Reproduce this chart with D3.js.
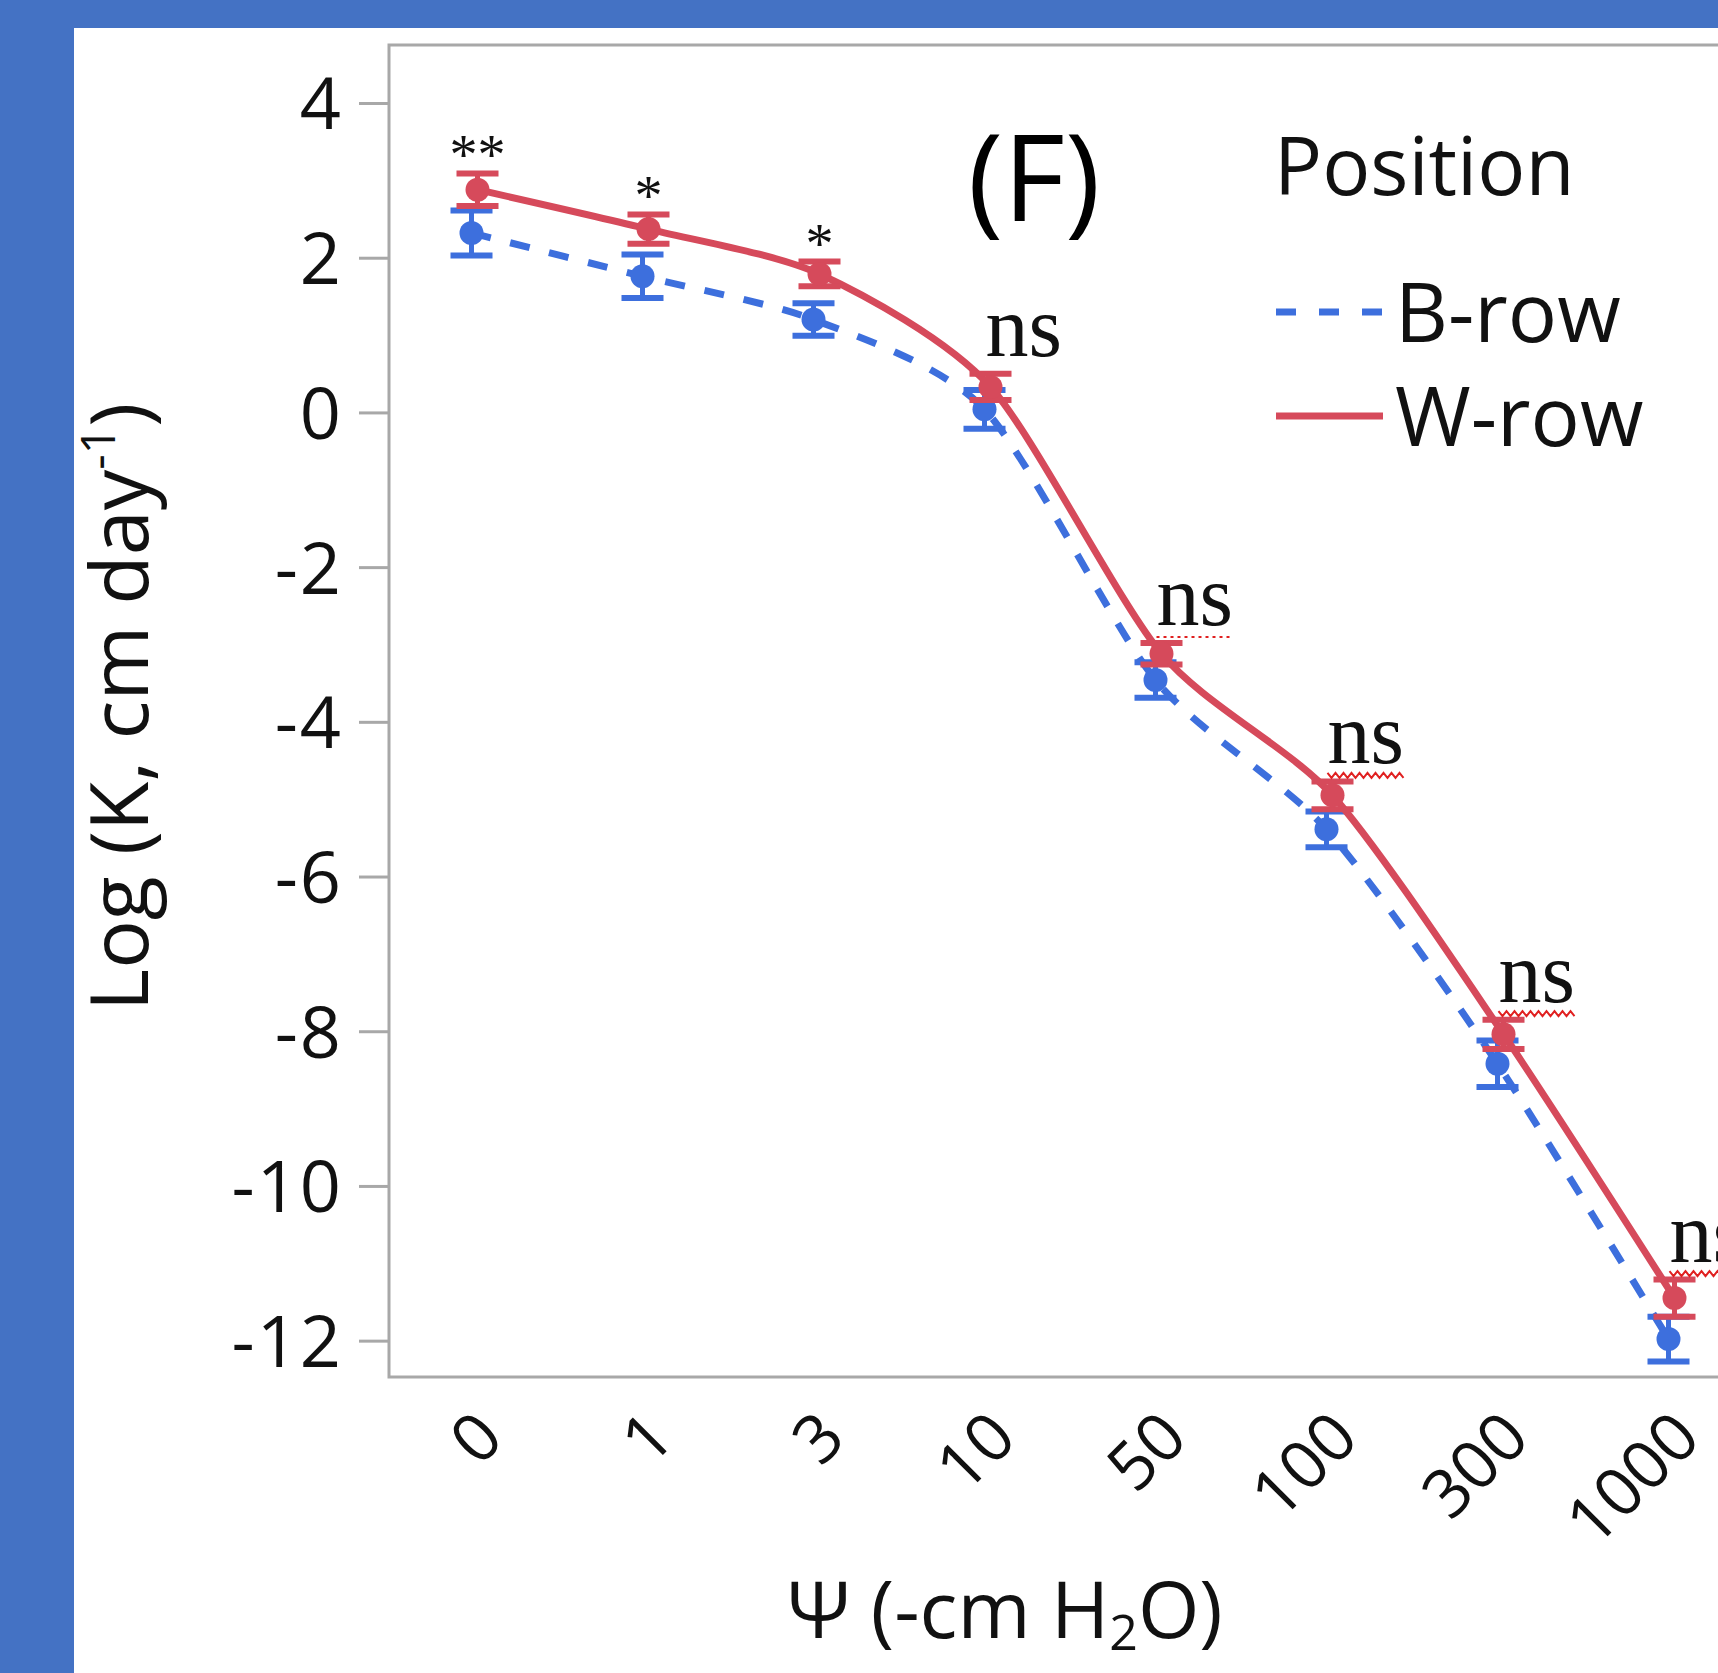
<!DOCTYPE html>
<html>
<head>
<meta charset="utf-8">
<script src="https://cdn.jsdelivr.net/npm/d3@7"></script>
<style>
  body { margin: 0; background: #4472c4; }
  svg { display: block; }
</style>
</head>
<body>
<div id="chart"></div>
<script>
// x categories: water potential (-cm H2O)
var categories = ["0", "1", "3", "10", "50", "100", "300", "1000"];
// W-row: mean log K and half-width of the error bar
var wMean = [2.88, 2.37, 1.79, 0.33, -3.12, -4.95, -8.04, -11.45];
var wErr = [0.21, 0.19, 0.16, 0.17, 0.14, 0.18, 0.19, 0.24];
// B-row
var bMean = [2.32, 1.76, 1.20, 0.04, -3.46, -5.39, -8.42, -11.98];
var bErr = [0.29, 0.28, 0.21, 0.25, 0.23, 0.23, 0.30, 0.29];
// significance marks above each pair
var sigLabels = ["**", "*", "*", "ns", "ns", "ns", "ns", "ns"];
var yTicks = [4, 2, 0, -2, -4, -6, -8, -10, -12];

var width = 1718, height = 1673;
var frame = {left: 389, top: 45, right: 1757, bottom: 1377};
var red = "#d64a5b", blue = "#3d6fdd", grey = "#a8a8a8";
var sans = "'Open Sans', 'Noto Sans', sans-serif";
var serif = "'Liberation Serif', 'DejaVu Serif', serif";

var svg = d3.select("#chart").append("svg")
    .attr("width", width)
    .attr("height", height);

// blue slide background and white panel
svg.append("rect").attr("width", width).attr("height", height).attr("fill", "#4472c4");
svg.append("rect").attr("x", 74).attr("y", 28)
    .attr("width", width - 74).attr("height", height - 28).attr("fill", "#fff");

var x = d3.scalePoint().domain(categories).range([frame.left, frame.right]).padding(0.5);
var y = d3.scaleLinear().domain([-12.47, 4.75]).range([frame.bottom, frame.top]);

//y axis
var yAxis = svg.append("g")
    .attr("transform", "translate(" + frame.left + ",0)")
    .call(d3.axisLeft(y).tickValues(yTicks).tickSize(30).tickPadding(16)
        .tickFormat(function (d) { return String(d); }));
yAxis.select(".domain").remove();
yAxis.selectAll(".tick line").attr("stroke", grey).attr("stroke-width", 3);
yAxis.selectAll(".tick text")
    .attr("font-family", sans).attr("font-size", 72).attr("fill", "#111")
    .attr("letter-spacing", 2)
    .attr("dy", "0.36em");

//x axis, labels turned 45 degrees
var xAxis = svg.append("g")
    .attr("transform", "translate(0," + frame.bottom + ")")
    .call(d3.axisBottom(x).tickSize(0));
xAxis.select(".domain").remove();
xAxis.selectAll(".tick text")
    .attr("font-family", sans).attr("font-size", 67).attr("fill", "#111")
    .attr("y", 0).attr("dy", 0)
    .attr("text-anchor", "end")
    .attr("transform", "translate(31,64) rotate(-45)");

// plot frame (right side runs off the picture)
svg.append("rect")
    .attr("x", frame.left).attr("y", frame.top)
    .attr("width", frame.right - frame.left).attr("height", frame.bottom - frame.top)
    .attr("fill", "none").attr("stroke", grey).attr("stroke-width", 3);

var series = [
    {name: "B-row", mean: bMean, err: bErr, color: blue, off: -3, dash: "20,20"},
    {name: "W-row", mean: wMean, err: wErr, color: red, off: 3, dash: null}
];

var capW = 42;
series.forEach(function (s) {
    var g = svg.append("g");
    var line = d3.line()
        .x(function (d, i) { return x(categories[i]) + s.off; })
        .y(function (d) { return y(d); })
        .curve(d3.curveCardinal.tension(0.25));
    g.append("path")
        .datum(s.mean)
        .attr("d", line)
        .attr("fill", "none")
        .attr("stroke", s.color)
        .attr("stroke-width", 7)
        .attr("stroke-dasharray", s.dash);

    var pts = g.selectAll(".pt")
        .data(s.mean)
        .enter()
        .append("g")
        .attr("transform", function (d, i) { return "translate(" + (x(categories[i]) + s.off) + ",0)"; });
    pts.append("line")
        .attr("y1", function (d, i) { return y(d + s.err[i]); })
        .attr("y2", function (d, i) { return y(d - s.err[i]); })
        .attr("stroke", s.color).attr("stroke-width", 5);
    pts.append("line")
        .attr("x1", -capW / 2).attr("x2", capW / 2)
        .attr("y1", function (d, i) { return y(d + s.err[i]); })
        .attr("y2", function (d, i) { return y(d + s.err[i]); })
        .attr("stroke", s.color).attr("stroke-width", 6);
    pts.append("line")
        .attr("x1", -capW / 2).attr("x2", capW / 2)
        .attr("y1", function (d, i) { return y(d - s.err[i]); })
        .attr("y2", function (d, i) { return y(d - s.err[i]); })
        .attr("stroke", s.color).attr("stroke-width", 6);
    pts.append("circle")
        .attr("cy", function (d) { return y(d); })
        .attr("r", 12)
        .attr("fill", s.color);
});

// significance marks
sigLabels.forEach(function (lab, i) {
    var top = y(wMean[i] + wErr[i]);
    var cx = x(categories[i]);
    if (lab !== "ns") {
        svg.append("text")
            .attr("x", cx + 3).attr("y", top + 1)
            .attr("text-anchor", "middle")
            .attr("font-family", serif).attr("font-size", 56)
            .attr("fill", "#111")
            .text(lab);
        return;
    }
    var t = svg.append("text")
        .attr("x", cx - 2).attr("y", top - 18)
        .attr("font-family", serif).attr("font-size", 86)
        .attr("fill", "#111")
        .text(lab);
    if (i < 4) return;
    // red spell-check underline from the source document
    var w = t.node().getComputedTextLength();
    var x0 = cx - 2, uy = top - 6;
    if (i === 4) {
        svg.append("line")
            .attr("x1", x0).attr("x2", x0 + w)
            .attr("y1", uy).attr("y2", uy)
            .attr("stroke", "#e02020").attr("stroke-width", 2)
            .attr("stroke-dasharray", "3,4");
    } else {
        var zig = [];
        for (var k = 0; k <= Math.floor(w / 4); k++) {
            zig.push([x0 + k * 4, uy + (k % 2 === 0 ? -2.5 : 2.5)]);
        }
        svg.append("path")
            .attr("d", d3.line()(zig))
            .attr("fill", "none")
            .attr("stroke", "#e02020").attr("stroke-width", 2);
    }
});

// panel label
svg.append("text")
    .attr("x", 1034).attr("y", 221)
    .attr("text-anchor", "middle")
    .attr("font-family", sans).attr("font-size", 120)
    .attr("fill", "#000")
    .text("(F)");

// legend
var legend = svg.append("g");
legend.append("text")
    .attr("x", 1274).attr("y", 195)
    .attr("font-family", sans).attr("font-size", 80).attr("fill", "#111")
    .text("Position");
var legRows = [{s: series[0], y: 312}, {s: series[1], y: 416}];
legRows.forEach(function (r) {
    legend.append("line")
        .attr("x1", 1276).attr("x2", 1383)
        .attr("y1", r.y).attr("y2", r.y)
        .attr("stroke", r.s.color).attr("stroke-width", 7)
        .attr("stroke-dasharray", r.s.dash ? "20,23" : null);
    legend.append("text")
        .attr("x", 1395).attr("y", r.y + 30)
        .attr("font-family", sans).attr("font-size", 82).attr("fill", "#111")
        .text(r.s.name);
});

// axis titles
var yTitle = svg.append("text")
    .attr("transform", "translate(148,707) rotate(-90)")
    .attr("text-anchor", "middle")
    .attr("font-family", sans).attr("font-size", 81).attr("fill", "#111");
yTitle.append("tspan").text("Log (K, cm day");
yTitle.append("tspan").attr("font-size", 48).attr("dy", -33).text("-1");
yTitle.append("tspan").attr("dy", 33).text(")");

var xTitle = svg.append("text")
    .attr("x", 1005).attr("y", 1638)
    .attr("text-anchor", "middle")
    .attr("font-family", sans).attr("font-size", 79).attr("fill", "#111");
xTitle.append("tspan").text("Ψ (-cm H");
xTitle.append("tspan").attr("font-size", 50).attr("dy", 12).text("2");
xTitle.append("tspan").attr("dy", -12).text("O)");
</script>
</body>
</html>
